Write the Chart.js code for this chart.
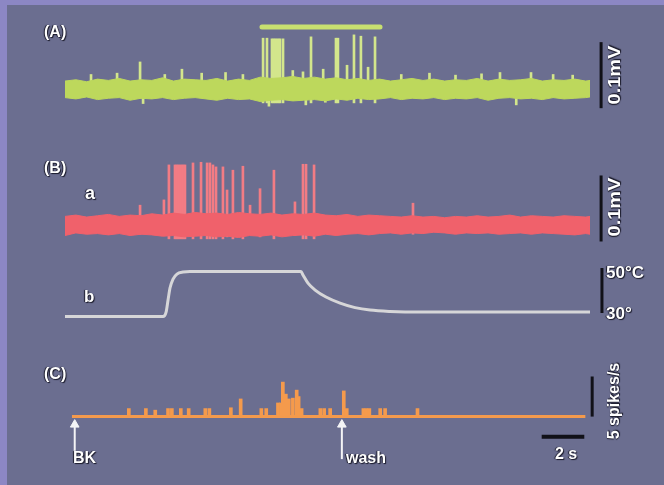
<!DOCTYPE html>
<html><head><meta charset="utf-8">
<script src="https://cdn.jsdelivr.net/npm/chart.js@4.4.1/dist/chart.umd.min.js"></script>
<style>
html,body{margin:0;padding:0;}
body{width:664px;height:485px;overflow:hidden;background:#8c87c4;position:relative;font-family:"Liberation Sans",Arial,sans-serif;}
#panel{position:absolute;left:7px;top:5px;right:0;bottom:0;background:#6b6e90;}
canvas{position:absolute;left:0;}
.lbl{position:absolute;color:#fff;font-weight:bold;text-shadow:-1px 0 1px #1a1a2a,1px 1px 1px #1a1a2a;white-space:nowrap;line-height:1;}
.rot{transform:translate(-50%,-50%) rotate(-90deg);}
.rotw{transform:translate(-50%,-50%) rotate(-90deg) scaleX(1.25);}
</style></head><body>
<div id="panel"></div>
<canvas id="cA" width="664" height="110" style="top:15px"></canvas>
<canvas id="cB" width="664" height="100" style="top:150px"></canvas>
<canvas id="cT" width="664" height="75" style="top:255px"></canvas>
<canvas id="cC" width="664" height="135" style="top:345px"></canvas>

<div class="lbl" style="left:44px;top:24px;font-size:16px">(A)</div>
<div class="lbl" style="left:44px;top:160px;font-size:16px">(B)</div>
<div class="lbl" style="left:85px;top:184px;font-size:18px">a</div>
<div class="lbl" style="left:84px;top:288px;font-size:17px">b</div>
<div class="lbl" style="left:44px;top:366px;font-size:16px">(C)</div>
<div class="lbl rotw" style="left:615px;top:75px;font-size:16px">0.1mV</div>
<div class="lbl rotw" style="left:615px;top:207px;font-size:16px">0.1mV</div>
<div class="lbl" style="left:606px;top:264px;font-size:17px">50°C</div>
<div class="lbl" style="left:606px;top:305px;font-size:17px">30°</div>
<div class="lbl rot" style="left:614px;top:401px;font-size:16px">5 spikes/s</div>
<div class="lbl" style="left:555px;top:446px;font-size:16px">2 s</div>
<div class="lbl" style="left:73px;top:450px;font-size:16px">BK</div>
<div class="lbl" style="left:346px;top:450px;font-size:16px">wash</div>

<script>
// ---- data (time in s) ----
const envTime = [0,0.5,1,1.5,2,2.5,3,3.5,4,4.5,5,5.5,6,6.5,7,7.5,8,8.5,9,9.5,10,10.5,11,11.5,12,12.5,13,13.5,14,14.5,15,15.5,16,16.5,17,17.5,18,18.5,19,19.5,20,20.5,21,21.5,22,22.5,23,23.5,24,24.2];

// (A) noise band envelope, mV
const upperA = [0.012,0.014,0.011,0.015,0.013,0.016,0.012,0.014,0.013,0.017,0.012,0.015,0.014,0.013,0.016,0.012,0.015,0.013,0.018,0.016,0.017,0.019,0.016,0.018,0.015,0.017,0.014,0.016,0.013,0.015,0.012,0.014,0.016,0.013,0.015,0.012,0.014,0.013,0.016,0.012,0.015,0.013,0.014,0.016,0.012,0.014,0.013,0.015,0.012,0.013];
const lowerA = [-0.013,-0.015,-0.012,-0.016,-0.014,-0.013,-0.017,-0.014,-0.015,-0.013,-0.016,-0.014,-0.013,-0.015,-0.017,-0.014,-0.016,-0.015,-0.019,-0.017,-0.016,-0.018,-0.017,-0.016,-0.018,-0.015,-0.017,-0.014,-0.016,-0.015,-0.013,-0.016,-0.014,-0.015,-0.013,-0.016,-0.014,-0.015,-0.013,-0.017,-0.014,-0.013,-0.015,-0.014,-0.016,-0.013,-0.015,-0.014,-0.013,-0.012];
// (A) spikes
const spikeTimeA = [1.2,2.4,3.46,3.6,4.6,5.39,6.3,7.4,8.2,9.13,9.31,9.4,9.54,9.63,9.72,9.82,9.91,10.05,10.5,10.97,11.1,11.34,11.9,12.0,12.49,12.58,13.0,13.32,13.64,13.97,14.29,15.5,16.8,18.0,19.2,20.05,20.8,21.48,22.5,23.4];
const spikeLowA  = [-0.012,-0.012,-0.014,-0.022,-0.012,-0.013,-0.012,-0.012,-0.012,-0.021,-0.021,-0.026,-0.021,-0.021,-0.021,-0.021,-0.021,-0.021,-0.012,-0.014,-0.024,-0.021,-0.012,-0.020,-0.021,-0.021,-0.014,-0.021,-0.021,-0.014,-0.021,-0.012,-0.012,-0.012,-0.012,-0.013,-0.024,-0.013,-0.012,-0.012];
const spikeTopA  = [0.022,0.024,0.041,0.012,0.022,0.030,0.024,0.025,0.022,0.077,0.077,0.012,0.076,0.076,0.076,0.076,0.076,0.076,0.028,0.026,0.012,0.079,0.030,0.012,0.077,0.077,0.036,0.082,0.080,0.033,0.079,0.022,0.024,0.021,0.023,0.025,0.012,0.025,0.022,0.021];
const stimStart = 9.08, stimEnd = 14.52, stimLevel = 0.094;

// (B)a noise band envelope, mV
const upperB = [0.013,0.015,0.012,0.014,0.016,0.013,0.015,0.014,0.017,0.015,0.018,0.016,0.019,0.017,0.018,0.016,0.019,0.017,0.016,0.018,0.015,0.017,0.016,0.018,0.015,0.014,0.016,0.013,0.015,0.014,0.013,0.012,0.014,0.012,0.013,0.011,0.013,0.012,0.014,0.012,0.013,0.015,0.012,0.014,0.013,0.012,0.014,0.013,0.012,0.013];
const lowerB = [-0.016,-0.012,-0.014,-0.013,-0.015,-0.013,-0.016,-0.014,-0.015,-0.017,-0.016,-0.018,-0.017,-0.016,-0.018,-0.017,-0.019,-0.016,-0.017,-0.015,-0.018,-0.016,-0.015,-0.017,-0.014,-0.016,-0.014,-0.013,-0.015,-0.013,-0.012,-0.014,-0.012,-0.013,-0.011,-0.012,-0.014,-0.012,-0.013,-0.012,-0.014,-0.013,-0.012,-0.014,-0.012,-0.013,-0.014,-0.015,-0.013,-0.014];
const spikeTimeB = [3.46,4.56,4.79,5.07,5.16,5.25,5.35,5.44,5.53,5.90,6.27,6.55,6.68,6.82,6.96,7.28,7.47,7.74,8.20,8.53,8.99,9.63,10.60,10.97,11.11,11.48,16.04];
const spikeTopB  = [0.030,0.038,0.091,0.091,0.091,0.091,0.091,0.091,0.091,0.094,0.095,0.094,0.094,0.091,0.088,0.088,0.053,0.083,0.089,0.030,0.055,0.083,0.035,0.092,0.092,0.091,0.033];
const spikeLowB  = [-0.014,-0.016,-0.021,-0.021,-0.021,-0.021,-0.021,-0.021,-0.021,-0.021,-0.021,-0.021,-0.021,-0.021,-0.021,-0.021,-0.018,-0.021,-0.021,-0.014,-0.018,-0.021,-0.016,-0.021,-0.021,-0.021,-0.014];

// (B)b temperature, °C
const tempTime = [0,4.52,4.66,4.75,4.84,4.98,5.16,5.44,5.76,10.88,10.97,11.2,11.53,12.03,12.68,13.37,14.06,14.98,16.37,24.2];
const tempVal  = [28.4,28.4,30.4,35.8,41.1,45.1,47.3,48.2,48.4,48.4,46.9,43.3,40.2,37.1,34.4,32.4,31.3,30.7,30.4,30.4];

// (C) firing rate, spikes/s
const rateTime = [2.77,3.57,4.01,4.61,4.79,5.21,5.58,6.36,6.55,7.56,8.02,8.99,9.22,9.77,9.91,10.00,10.14,10.28,10.47,10.65,10.74,10.88,11.76,11.94,12.22,12.86,13.00,13.78,13.92,14.06,14.57,14.80,16.32];
const rateVal  = [1,1,0.8,1,1,1,1,1,1,1.1,2.2,1,1,1.7,1.7,4.3,2.8,2.2,2.3,3.3,2.5,1,1,1,1,3.2,1,1,1,1,1,1,1];
const bkTime = 0.23, washTime = 12.77;

// scale bars
const mvBar = 0.1, tempBar = [30, 50], rateBar = 5, timeBar = 2;

// ---- layout of the time axis ----
const T_MIN = -2.996, T_MAX = 27.61;

const xy = (ts, vs) => ts.map((t, i) => ({x: t, y: vs[i]}));
const floating = (ts, lo, hi) => ts.map((t, i) => ({x: t, y: [lo[i], hi[i]]}));
const seg = (x0, y0, x1, y1) => [{x: x0, y: y0}, {x: x1, y: y1}];

function panel(id, ymin, ymax, datasets) {
  return new Chart(document.getElementById(id), {
    type: 'line',
    data: {datasets},
    options: {
      responsive: false, animation: false, devicePixelRatio: 1, events: [],
      layout: {padding: 0},
      plugins: {legend: {display: false}, tooltip: {enabled: false}},
      elements: {point: {radius: 0}, line: {tension: 0}},
      scales: {
        x: {type: 'linear', min: T_MIN, max: T_MAX, display: false, offset: false},
        y: {type: 'linear', min: ymin, max: ymax, display: false}
      }
    }
  });
}

const GREEN = '#bdd85c', GREEN_SP = '#d3e68c', RED = '#f0616b', RED_SP = '#f27c84', ORANGE = '#f49a4c', BLACK = '#111118';

// (A)
panel('cA', -0.0545, 0.1121, [
  {data: xy(envTime, upperA), borderColor: GREEN, borderWidth: 1, backgroundColor: GREEN, fill: '+1'},
  {data: xy(envTime, lowerA), borderColor: GREEN, borderWidth: 1, fill: false},
  {type: 'bar', data: floating(spikeTimeA, spikeLowA, spikeTopA), backgroundColor: GREEN_SP, barThickness: 2, grouped: false},
  {data: seg(stimStart, stimLevel, stimEnd, stimLevel), borderColor: '#c8e070', borderWidth: 5, borderCapStyle: 'round'},
  {data: seg(24.71, -0.029, 24.71, -0.029 + mvBar), borderColor: BLACK, borderWidth: 3}
]);

// (B) a
panel('cB', -0.0379, 0.1136, [
  {data: xy(envTime, upperB), borderColor: RED, borderWidth: 1, backgroundColor: RED, fill: '+1'},
  {data: xy(envTime, lowerB), borderColor: RED, borderWidth: 1, fill: false},
  {type: 'bar', data: floating(spikeTimeB, spikeLowB, spikeTopB), backgroundColor: RED_SP, barThickness: 2, grouped: false},
  {data: seg(24.71, -0.025, 24.71, -0.025 + mvBar), borderColor: BLACK, borderWidth: 3}
]);

// (B) b temperature
panel('cT', 22.44, 55.78, [
  {data: xy(tempTime, tempVal), borderColor: '#d6d6d8', borderWidth: 3, cubicInterpolationMode: 'monotone'},
  {data: seg(24.75, tempBar[0], 24.75, tempBar[1]), borderColor: BLACK, borderWidth: 3}
]);

// (C)
panel('cC', -7.16, 8.18, [
  {type: 'bar', data: xy(rateTime, rateVal), backgroundColor: ORANGE, barThickness: 3, grouped: false},
  {data: seg(0.1, 0, 24.2, 0), borderColor: ORANGE, borderWidth: 3},
  {data: seg(24.52, 0, 24.52, rateBar), borderColor: BLACK, borderWidth: 3},
  {data: seg(22.15, -2.5, 22.15 + timeBar, -2.5), borderColor: BLACK, borderWidth: 4},
  {data: seg(bkTime, -5.3, bkTime, -1.0), borderColor: '#f4f4f6', borderWidth: 2,
   pointRadius: [0, 5], pointStyle: 'triangle', pointBackgroundColor: '#f4f4f6', pointBorderColor: '#f4f4f6', pointBorderWidth: 1},
  {data: seg(washTime, -5.3, washTime, -1.0), borderColor: '#f4f4f6', borderWidth: 2,
   pointRadius: [0, 5], pointStyle: 'triangle', pointBackgroundColor: '#f4f4f6', pointBorderColor: '#f4f4f6', pointBorderWidth: 1}
]);
</script>
</body></html>
